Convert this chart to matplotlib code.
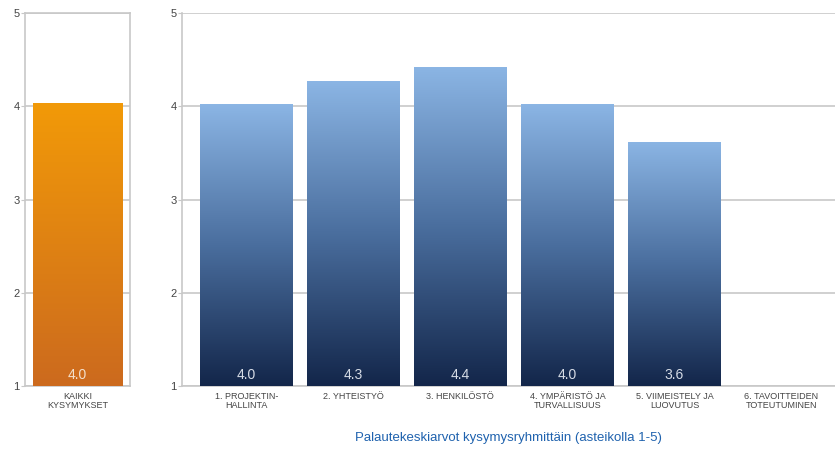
import matplotlib
matplotlib.use("Agg")
import matplotlib.pyplot as plt
import numpy as np
from matplotlib.colors import LinearSegmentedColormap

plt.rcParams['font.family'] = ['Liberation Sans', 'DejaVu Sans']

overall_label = ["KAIKKI\nKYSYMYKSET"]
overall_value = [4.04]
overall_text = ["4.0"]

categories = ["1. PROJEKTIN-\nHALLINTA", "2. YHTEISTYÖ", "3. HENKILÖSTÖ",
              "4. YMPÄRISTÖ JA\nTURVALLISUUS", "5. VIIMEISTELY JA\nLUOVUTUS",
              "6. TAVOITTEIDEN\nTOTEUTUMINEN"]
values = [4.02, 4.27, 4.42, 4.02, 3.62, np.nan]
value_texts = ["4.0", "4.3", "4.4", "4.0", "3.6", ""]
yticks = [1, 2, 3, 4, 5]

fig = plt.figure(figsize=(8.35, 4.51), dpi=100)
W, H = 835, 451
ax1 = fig.add_axes([25/W, 1-386/H, 105/W, (386-13)/H])
ax2 = fig.add_axes([182/W, 1-386/H, (835-182)/W, (386-13)/H])

grid_c = "#c8c8c8"
orange = LinearSegmentedColormap.from_list("o", ["#CC6A1E", "#F29A08"])
blue = LinearSegmentedColormap.from_list("b", ["#13264A", "#4A6E9E", "#8BB5E4"])

def grad_bars(ax, bars, cmap):
    grad = np.linspace(0, 1, 256).reshape(-1, 1)
    for b in bars:
        h = b.get_height()
        if not np.isfinite(h):
            continue
        x0 = b.get_x(); w = b.get_width(); y0 = b.get_y()
        im = ax.imshow(grad, cmap=cmap, origin="lower", aspect="auto",
                       extent=[x0, x0 + w, y0, y0 + h], zorder=3)
        im.set_clip_path(b)
        b.set_facecolor("none")

for ax in (ax1, ax2):
    ax.set_ylim(1, 5)
    ax.set_yticks(yticks)
    ax.set_yticklabels([str(t) for t in yticks], fontsize=8, color="#444444")
    ax.tick_params(axis="y", length=3, color=grid_c, pad=1)
    ax.tick_params(axis="x", length=0, pad=4)
    ax.grid(axis="y", color=grid_c, linewidth=1.2, zorder=0)
    ax.set_axisbelow(True)

# left axes
x1 = np.arange(len(overall_value))
b1 = ax1.bar(x1, np.array(overall_value) - 1, bottom=1, width=0.85, zorder=2)
grad_bars(ax1, b1, orange)
ax1.set_xlim(-0.5, 0.5)
ax1.set_xticks(x1)
ax1.set_xticklabels(overall_label, fontsize=6.5, color="#444444", linespacing=1.1)
for s in ax1.spines.values():
    s.set_color(grid_c); s.set_linewidth(1.2)
for xi, t in zip(x1, overall_text):
    ax1.text(xi, 1.04, t, ha="center", va="bottom", color="#f3e0cc", fontsize=10, zorder=5)

# right axes
x2 = np.arange(len(categories))
vals = np.array(values)
b2 = ax2.bar(x2, vals - 1, bottom=1, width=0.86, zorder=2)
grad_bars(ax2, b2, blue)
ax2.set_xlim(-0.6, 5.5)
ax2.set_xticks(x2)
ax2.set_xticklabels(categories, fontsize=6.5, color="#444444", linespacing=1.1)
for k in ("top", "right"):
    ax2.spines[k].set_visible(False)
ax2.spines["left"].set_color(grid_c); ax2.spines["left"].set_linewidth(1.2)
ax2.spines["bottom"].set_color(grid_c); ax2.spines["bottom"].set_linewidth(1.2)
for xi, t in zip(x2, value_texts):
    if t:
        ax2.text(xi, 1.04, t, ha="center", va="bottom", color="#d6dce6", fontsize=10, zorder=5)

fig.text(508/W, 1-438/H, "Palautekeskiarvot kysymysryhmittäin (asteikolla 1-5)",
         ha="center", va="center", color="#1F62AE", fontsize=9.5)

fig.savefig("out.png", dpi=100)
